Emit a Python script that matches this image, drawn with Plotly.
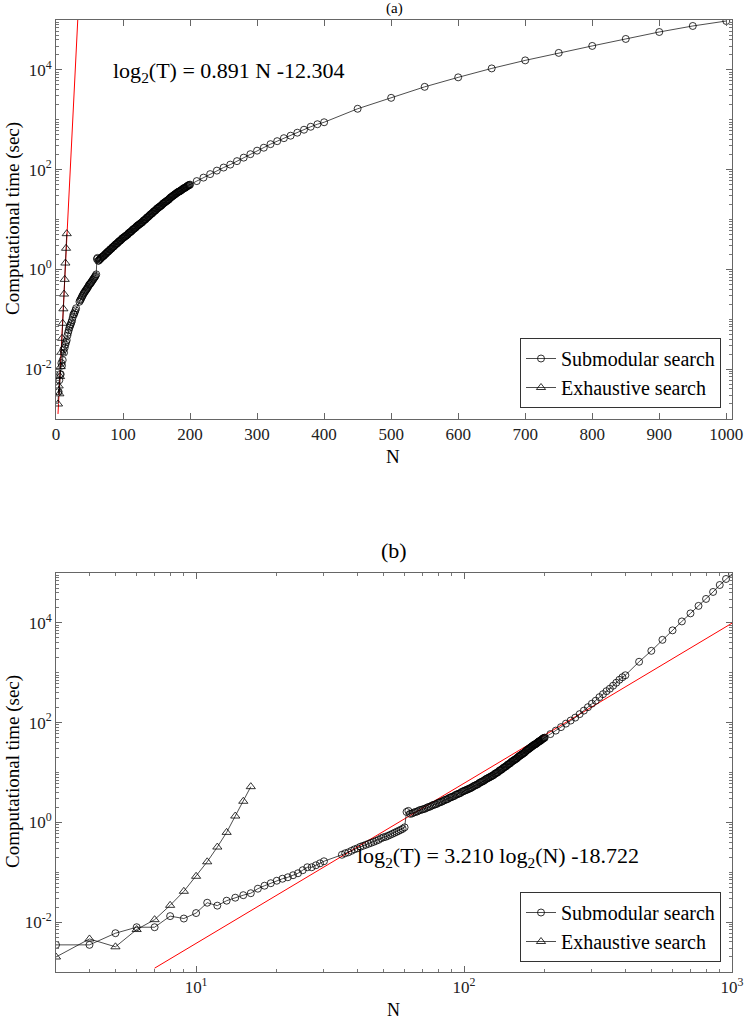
import math
import plotly.graph_objects as go

# ---------------- data ----------------
sub_N = list(range(3, 31)) + list(range(35, 201)) + list(range(210, 401, 10)) + list(range(450, 1001, 50))
sub_T = [
    # 3..30
    0.0035, 0.0035, 0.0060, 0.0079, 0.0079, 0.0132, 0.0118, 0.0152, 0.0245, 0.0214,
    0.0269, 0.0309, 0.0347, 0.0380, 0.0468, 0.0537, 0.0603, 0.0676, 0.0741, 0.0794,
    0.0871, 0.0955, 0.110, 0.126, 0.126, 0.138, 0.151, 0.166,
    # 35..60
    0.224, 0.240, 0.251, 0.269, 0.288, 0.302, 0.324, 0.339, 0.355, 0.372,
    0.389, 0.407, 0.427, 0.447, 0.479, 0.501, 0.513, 0.537, 0.562, 0.589,
    0.617, 0.646, 0.676, 0.708, 0.741, 0.794,
    # 61..100
    1.62, 1.70, 1.48, 1.51, 1.58, 1.62, 1.66, 1.74, 1.78, 1.82,
    1.86, 1.91, 2.00, 2.04, 2.09, 2.19, 2.24, 2.29, 2.34, 2.45,
    2.51, 2.57, 2.63, 2.75, 2.82, 2.88, 2.95, 3.09, 3.16, 3.24,
    3.31, 3.39, 3.55, 3.63, 3.72, 3.80, 3.89, 4.07, 4.17, 4.27,
    # 101..150
    4.37, 4.47, 4.57, 4.68, 4.79, 4.90, 5.01, 5.25, 5.37, 5.50,
    5.62, 5.75, 5.89, 6.17, 6.31, 6.46, 6.61, 6.76, 6.92, 7.24,
    7.41, 7.59, 7.76, 7.94, 8.13, 8.32, 8.51, 8.71, 8.91, 9.33,
    9.55, 9.77, 10.0, 10.2, 10.7, 11.0, 11.2, 11.5, 11.8, 12.3,
    12.6, 12.9, 13.2, 13.5, 14.1, 14.5, 14.8, 15.1, 15.5, 16.2,
    # 151..200
    16.6, 17.0, 17.4, 17.8, 18.2, 18.6, 19.1, 19.5, 20.4, 20.9,
    21.4, 21.9, 22.4, 22.9, 23.4, 24.0, 24.5, 25.1, 25.7, 26.9,
    27.5, 28.2, 28.8, 29.5, 30.2, 30.9, 31.6, 32.4, 33.1, 33.9,
    34.7, 35.5, 36.3, 36.3, 37.2, 38.0, 38.9, 39.8, 40.7, 41.7,
    42.7, 42.7, 43.7, 44.7, 45.7, 46.8, 47.9, 49.0, 49.0, 50.1,
    # 210..400
    58.9, 69.2, 81.3, 95.5, 110, 126, 148, 174, 204, 240,
    275, 324, 372, 427, 479, 550, 631, 724, 813, 891,
    # 450..1000
    1660, 2750, 4570, 7080, 10700, 15500, 21900, 30200, 41700, 57500, 75900, 95500,
]

exh_N = list(range(3, 17))
exh_T = [0.0020, 0.0046, 0.0032, 0.0071, 0.0112, 0.0217, 0.0415, 0.083, 0.162, 0.32, 0.63, 1.34, 2.65, 5.2]

# fitted lines (coefficients shown in the chart text)
fit_a = (0.891, -12.304)      # log2(T) = a*N + b
fit_a_N = [3, 34]
fit_b = (3.210, -18.722)      # log2(T) = a*log2(N) + b
fit_b_N = [7, 1000]

x_ticks_a = [0, 100, 200, 300, 400, 500, 600, 700, 800, 900, 1000]
y_ticks = [1e-2, 1e0, 1e2, 1e4]
y_tick_text = ["10<sup>-2</sup>", "10<sup>0</sup>", "10<sup>2</sup>", "10<sup>4</sup>"]
x_ticks_b = [10, 100, 1000]
x_tick_text_b = ["10<sup>1</sup>", "10<sup>2</sup>", "10<sup>3</sup>"]

fa_T = [2 ** (fit_a[0] * n + fit_a[1]) for n in fit_a_N]
fb_T = [2 ** (fit_b[0] * math.log2(n) + fit_b[1]) for n in fit_b_N]

# ---------------- figure ----------------
FONT = "Liberation Serif, Times New Roman, serif"
W, H = 747, 1022
fig = go.Figure()

mk_c = dict(symbol="circle-open", size=7, color="black", line=dict(width=0.8))
mk_t = dict(symbol="triangle-up-open", size=8, color="black", line=dict(width=0.8))
ln = dict(color="black", width=0.7)

# panel (a)
fig.add_trace(go.Scatter(x=fit_a_N, y=fa_T, mode="lines", line=dict(color="red", width=1),
                         showlegend=False, xaxis="x", yaxis="y"))
fig.add_trace(go.Scatter(x=sub_N, y=sub_T, mode="lines+markers", marker=mk_c, line=ln,
                         name="Submodular search", xaxis="x", yaxis="y", legend="legend"))
fig.add_trace(go.Scatter(x=exh_N, y=exh_T, mode="lines+markers", marker=mk_t, line=ln,
                         name="Exhaustive search", xaxis="x", yaxis="y", legend="legend"))
# panel (b)
fig.add_trace(go.Scatter(x=fit_b_N, y=fb_T, mode="lines", line=dict(color="red", width=1),
                         showlegend=False, xaxis="x2", yaxis="y2"))
fig.add_trace(go.Scatter(x=sub_N, y=sub_T, mode="lines+markers", marker=mk_c, line=ln,
                         name="Submodular search", xaxis="x2", yaxis="y2", legend="legend2"))
fig.add_trace(go.Scatter(x=exh_N, y=exh_T, mode="lines+markers", marker=mk_t, line=ln,
                         name="Exhaustive search", xaxis="x2", yaxis="y2", legend="legend2"))

def px_x(p):
    return p / W

def px_y(p):
    return 1 - p / H

axis_common = dict(showline=True, linecolor="#666", linewidth=1, mirror="ticks",
                   ticks="inside", ticklen=6, tickcolor="#666", showgrid=False, zeroline=False,
                   automargin=False, ticklabeloverflow="allow",
                   tickfont=dict(family=FONT, size=17, color="#222"))
minor_log = dict(ticks="inside", ticklen=3, tickcolor="#777", dtick="D1", showgrid=False)

dom_x = [px_x(56), px_x(732)]
leg_common = dict(xanchor="right", yanchor="bottom", bordercolor="#333", borderwidth=1,
                  bgcolor="white", font=dict(family=FONT, size=20, color="black"),
                  tracegroupgap=0, itemwidth=30)
fig.update_layout(
    width=W, height=H, margin=dict(l=0, r=0, t=0, b=0, autoexpand=False),
    paper_bgcolor="white", plot_bgcolor="white",
    font=dict(family=FONT, color="black"),
    xaxis=dict(domain=dom_x, anchor="y", range=[0, 1008.5], tickvals=x_ticks_a, **axis_common),
    yaxis=dict(domain=[px_y(419), px_y(20)], anchor="x", type="log", range=[-3, 5],
               tickvals=y_ticks, ticktext=y_tick_text, minor=minor_log, **axis_common),
    xaxis2=dict(domain=dom_x, anchor="y2", type="log", range=[math.log10(3), 3],
                tickvals=x_ticks_b, ticktext=x_tick_text_b, minor=minor_log, **axis_common),
    yaxis2=dict(domain=[px_y(972), px_y(573)], anchor="x2", type="log", range=[-3, 5],
                tickvals=y_ticks, ticktext=y_tick_text, minor=minor_log, **axis_common),
    legend=dict(x=px_x(721), y=px_y(408), **leg_common),
    legend2=dict(x=px_x(721), y=px_y(962), **leg_common),
)

ann = [
    dict(text="(a)", x=px_x(394), y=px_y(9), size=15),
    dict(text="(b)", x=px_x(394), y=px_y(550), size=22),
    dict(text="N", x=px_x(393), y=px_y(457), size=19),
    dict(text="N", x=px_x(393), y=px_y(1010), size=18),
    dict(text="log<sub>2</sub>(T) = 0.891 N -12.304", x=px_x(229), y=px_y(72), size=22),
    dict(text="log<sub>2</sub>(T) = 3.210 log<sub>2</sub>(N) -18.722", x=px_x(498), y=px_y(857), size=22),
]
for a in ann:
    fig.add_annotation(text=a["text"], x=a["x"], y=a["y"], xref="paper", yref="paper",
                       showarrow=False, xanchor="center", yanchor="middle",
                       font=dict(family=FONT, size=a["size"], color="black"))
for yc in (219, 772):
    fig.add_annotation(text="Computational time (sec)", x=px_x(13), y=px_y(yc), xref="paper", yref="paper",
                       showarrow=False, textangle=-90, xanchor="center", yanchor="middle",
                       font=dict(family=FONT, size=19, color="black"))

fig.write_html("out.html", config={"displayModeBar": False},
               post_script="document.body.style.margin='0';document.body.style.overflow='hidden';")
